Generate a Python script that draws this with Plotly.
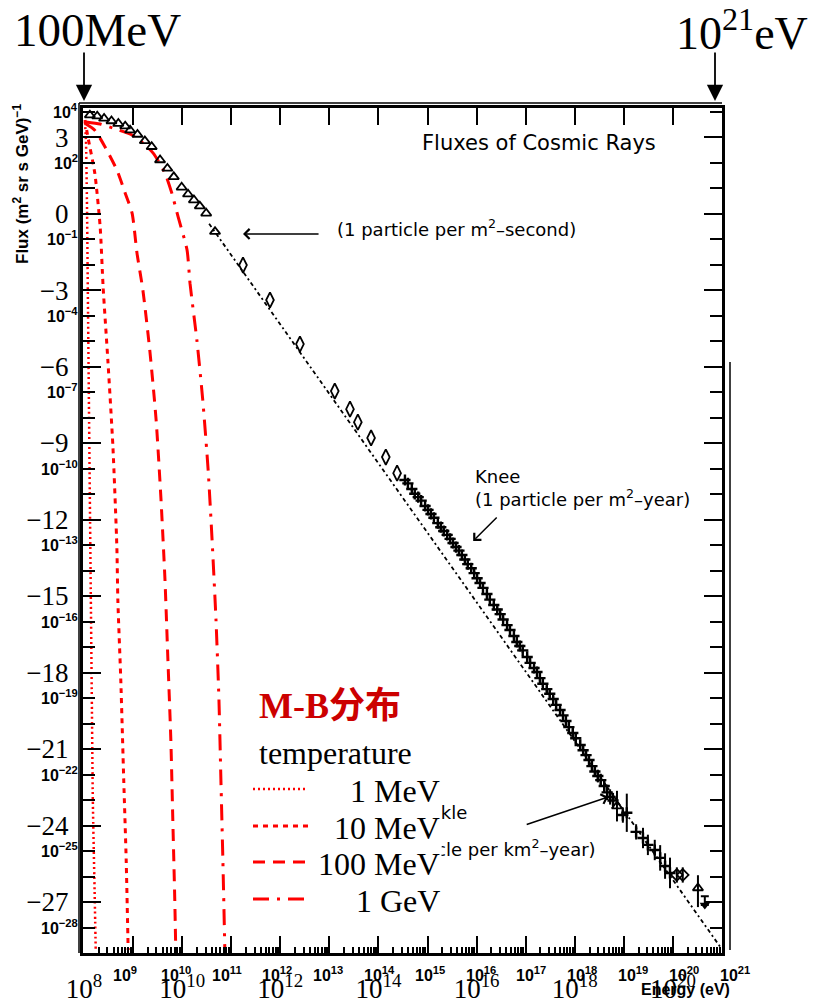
import plotly.graph_objects as go

# ---------------- data: log10(E / eV) and log10(flux) ----------------
# low-energy direct measurements (open triangles)
tri_logE = [8.12, 8.27, 8.41, 8.56, 8.70, 8.84, 8.94, 9.09, 9.24, 9.38,
            9.55, 9.70, 9.83, 9.99, 10.12, 10.24, 10.36, 10.49, 10.67]
tri_logF = [3.86, 3.82, 3.73, 3.63, 3.53, 3.43, 3.27, 3.10, 2.85, 2.62,
            2.10, 1.77, 1.44, 1.03, 0.76, 0.53, 0.29, 0.01, -0.71]

# balloon / satellite points (open diamonds)
dia_logE = [11.24, 11.79, 12.40, 13.11, 13.42, 13.58, 13.85, 14.15, 14.38]
dia_logF = [-2.02, -3.39, -5.12, -6.96, -7.67, -8.18, -8.80, -9.55, -10.18]

# air-shower points across the knee (two overlapping data sets)
knee_logE = [14.54, 14.68, 14.81, 14.95, 15.07, 15.21, 15.33, 15.46, 15.58, 15.70,
             15.82, 15.95, 16.07, 16.21, 16.35, 16.48, 16.62, 16.76, 16.88, 17.03,
             17.17, 17.29, 17.43, 17.56, 17.70, 17.82, 17.96, 18.11, 18.23, 18.35,
             18.47, 18.60, 18.72]
knee_logF = [-10.45, -10.80, -11.12, -11.47, -11.78, -12.14, -12.45, -12.76, -13.08, -13.39,
             -13.75, -14.10, -14.49, -14.92, -15.35, -15.71, -16.14, -16.57, -16.96, -17.39,
             -17.82, -18.22, -18.65, -19.04, -19.47, -19.90, -20.37, -20.84, -21.24, -21.67,
             -22.06, -22.45, -22.88]
knee_err = [0.08, 0.08, 0.08, 0.08, 0.08, 0.08, 0.08, 0.08, 0.08, 0.08,
            0.08, 0.08, 0.08, 0.08, 0.08, 0.08, 0.10, 0.10, 0.10, 0.10,
            0.10, 0.12, 0.12, 0.12, 0.15, 0.15, 0.15, 0.20, 0.20, 0.20,
            0.25, 0.25, 0.30]
knee2_logE = [14.60, 14.74, 14.87, 15.01, 15.13, 15.27, 15.40, 15.52, 15.64, 15.76,
              15.89, 16.01, 16.13, 16.27, 16.42, 16.54, 16.68, 16.82, 16.94, 17.09,
              17.23, 17.35, 17.49, 17.62, 17.76, 17.88, 18.02, 18.17, 18.29, 18.41,
              18.53, 18.66, 18.78]
knee2_logF = [-10.58, -10.99, -11.26, -11.62, -11.93, -12.30, -12.60, -12.92, -13.22, -13.57,
              -13.91, -14.30, -14.68, -15.14, -15.53, -15.92, -16.33, -16.80, -17.13, -17.62,
              -17.98, -18.44, -18.83, -19.27, -19.68, -20.14, -20.58, -21.05, -21.43, -21.88,
              -22.22, -22.70, -23.02]
knee2_err = [0.06, 0.06, 0.06, 0.06, 0.06, 0.06, 0.06, 0.06, 0.06, 0.06,
             0.06, 0.06, 0.08, 0.08, 0.08, 0.08, 0.08, 0.10, 0.10, 0.10,
             0.10, 0.12, 0.12, 0.15, 0.15, 0.15, 0.18, 0.20, 0.20, 0.22,
             0.25, 0.30, 0.30]

# ultra-high-energy points with error bars
uhe_logE = [18.98, 19.06, 19.25, 19.39, 19.49, 19.63, 19.74, 19.84, 19.94]
uhe_logF = [-23.59, -23.50, -24.25, -24.49, -24.76, -24.96, -25.27, -25.59, -25.86]
uhe_err = [0.30, 0.75, 0.30, 0.40, 0.40, 0.40, 0.50, 0.50, 0.60]

uhe_tri_logE = [18.86, 20.51]
uhe_tri_logF = [-23.24, -26.45]
uhe_tri_up = [0.60, 0.50]
uhe_tri_dn = [0.60, 0.75]

uhe_dia_logE = [20.08, 20.20]
uhe_dia_logF = [-25.94, -25.94]
uhe_dia_err = [0.30, 0.30]

lim_logE = [20.65]
lim_logF = [-27.12]
lim_up = [0.35]

# E^-2.7 reference line
ref_logE = [10.55, 20.96]
ref_logF = [-0.40, -28.75]

# Maxwell-Boltzmann curves for four temperatures
mb_labels = ["1 MeV", "10 MeV", "100 MeV", "1 GeV"]
mb1_logE = [8.02, 8.04, 8.06, 8.08, 8.10, 8.12, 8.14, 8.16, 8.18, 8.22, 8.24]
mb1_logF = [3.59, 2.88, 0.53, -3.39, -7.31, -11.24, -15.16, -19.08, -23.00, -26.92, -28.96]
mb2_logE = [8.02, 8.08, 8.22, 8.33, 8.39, 8.49, 8.59, 8.67, 8.69, 8.75, 8.81, 8.86, 8.90]
mb2_logF = [3.67, 3.00, 1.59, -0.53, -2.88, -5.86, -9.16, -13.08, -15.16, -18.29, -22.22, -25.35, -28.88]
mb3_logE = [8.04, 8.22, 8.43, 8.67, 8.84, 8.98, 9.08, 9.20, 9.34, 9.47, 9.57, 9.65,
            9.71, 9.77, 9.81, 9.85, 9.87]
mb3_logF = [3.51, 3.27, 2.61, 1.71, 0.80, 0.02, -1.55, -3.00, -5.35, -8.10, -11.24, -14.35,
            -17.51, -20.65, -23.78, -26.92, -28.88]
mb4_logE = [8.04, 8.33, 8.59, 8.98, 9.18, 9.41, 9.65, 9.79, 9.92, 10.10, 10.16, 10.30,
            10.42, 10.53, 10.61, 10.69, 10.75, 10.79, 10.83, 10.87]
mb4_logF = [3.59, 3.51, 3.35, 3.08, 2.80, 2.37, 1.59, 0.80, -0.14, -1.43, -2.73, -4.96,
            -7.31, -10.06, -12.80, -15.94, -19.08, -22.22, -25.35, -28.88]

# axis tick labels
y_big_exp = [3, 0, -3, -6, -9, -12, -15, -18, -21, -24, -27]
y_small_exp = [4, 2, -1, -4, -7, -10, -13, -16, -19, -22, -25, -28]
x_big_exp = [8, 10, 12, 14, 16, 18, 20]
x_small_exp = [9, 10, 11, 12, 13, 14, 15, 16, 17, 18, 19, 20, 21]

# ---------------- geometry ----------------
W, H = 813, 1004
L, R, T, B = 83, 722, 108, 953
X_RANGE = [7.98, 21.0]
Y_RANGE = [-29.0, 4.14]


def px(xp):
    return (xp - L) / (R - L)


def py(yp):
    return (B - yp) / (B - T)


def lin(a):
    return [10.0 ** v for v in a]


def eplus(logF, e):
    return [10.0 ** f * (10.0 ** d - 1.0) for f, d in zip(logF, e)]


def eminus(logF, e):
    return [10.0 ** f * (1.0 - 10.0 ** (-d)) for f, d in zip(logF, e)]


def minus(s):
    return s.replace("-", "\u2212")


RED = "#ff0000"
SERIF = "Liberation Serif, Times New Roman, serif"
SANS_B = "Liberation Sans, Arial, sans-serif"
ROUND = "DejaVu Sans, sans-serif"

fig = go.Figure()

fig.add_trace(go.Scatter(x=lin(ref_logE), y=lin(ref_logF), mode="lines",
                         line=dict(color="black", width=1.8, dash="4px,3px,2px,3px"),
                         hoverinfo="skip", showlegend=False))

mb_sets = [(mb1_logE, mb1_logF, "2px,3px", 2.5),
           (mb2_logE, mb2_logF, "5px,5px", 3),
           (mb3_logE, mb3_logF, "12px,8px", 3),
           (mb4_logE, mb4_logF, "16px,8px,3px,8px", 3)]
for (le, lf, dash, w), name in zip(mb_sets, mb_labels):
    fig.add_trace(go.Scatter(x=lin(le), y=lin(lf), mode="lines", name=name,
                             line=dict(color=RED, width=w, dash=dash, shape="spline", smoothing=0.6),
                             showlegend=False))

fig.add_trace(go.Scatter(x=lin(tri_logE), y=lin(tri_logF), mode="markers",
                         marker=dict(symbol="triangle-up-open", size=9, color="black",
                                     line=dict(width=1.8, color="black")),
                         showlegend=False))
fig.add_trace(go.Scatter(x=lin(dia_logE), y=lin(dia_logF), mode="markers",
                         marker=dict(symbol="diamond-tall-open", size=11, color="black",
                                     line=dict(width=1.8, color="black")),
                         showlegend=False))
for le, lf, er in [(knee_logE, knee_logF, knee_err), (knee2_logE, knee2_logF, knee2_err)]:
    fig.add_trace(go.Scatter(x=lin(le), y=lin(lf), mode="markers",
                             marker=dict(symbol="cross-thin-open", size=8, color="black",
                                         line=dict(width=2.4, color="black")),
                             error_y=dict(type="data", symmetric=False,
                                          array=eplus(lf, er), arrayminus=eminus(lf, er),
                                          color="black", thickness=2, width=0),
                             showlegend=False))
fig.add_trace(go.Scatter(x=lin(uhe_logE), y=lin(uhe_logF), mode="markers",
                         marker=dict(symbol="cross-thin-open", size=8, color="black",
                                     line=dict(width=2.4, color="black")),
                         error_y=dict(type="data", symmetric=False,
                                      array=eplus(uhe_logF, uhe_err),
                                      arrayminus=eminus(uhe_logF, uhe_err),
                                      color="black", thickness=2, width=0),
                         showlegend=False))
fig.add_trace(go.Scatter(x=lin(uhe_tri_logE), y=lin(uhe_tri_logF), mode="markers",
                         marker=dict(symbol="triangle-up-open", size=9, color="black",
                                     line=dict(width=1.8, color="black")),
                         error_y=dict(type="data", symmetric=False,
                                      array=eplus(uhe_tri_logF, uhe_tri_up),
                                      arrayminus=eminus(uhe_tri_logF, uhe_tri_dn),
                                      color="black", thickness=2, width=0),
                         showlegend=False))
fig.add_trace(go.Scatter(x=lin(uhe_dia_logE), y=lin(uhe_dia_logF), mode="markers",
                         marker=dict(symbol="diamond-open", size=9, color="black",
                                     line=dict(width=1.8, color="black")),
                         error_y=dict(type="data", symmetric=False,
                                      array=eplus(uhe_dia_logF, uhe_dia_err),
                                      arrayminus=eminus(uhe_dia_logF, uhe_dia_err),
                                      color="black", thickness=2, width=0),
                         showlegend=False))
fig.add_trace(go.Scatter(x=lin(lim_logE), y=lin(lim_logF), mode="markers",
                         marker=dict(symbol="triangle-down", size=9, color="black"),
                         error_y=dict(type="data", symmetric=False,
                                      array=eplus(lim_logF, lim_up), arrayminus=[0],
                                      color="black", thickness=2, width=4),
                         showlegend=False))
# carrier for the top tick axis
fig.add_trace(go.Scatter(x=[], y=[], xaxis="x2", yaxis="y", hoverinfo="skip", showlegend=False))

ann = []

# small original tick labels on the y axis
for e in y_small_exp:
    ann.append(dict(xref="paper", yref="y", x=px(80), y=e, xanchor="right", yanchor="middle",
                    yshift=1, showarrow=False,
                    text="<b>10<sup>" + minus(str(e)) + "</sup></b>",
                    font=dict(family=SANS_B, size=16, color="black")))

# small original tick labels on the x axis
for n in x_small_exp:
    ann.append(dict(xref="x", yref="paper", x=n, y=py(974), xanchor="center", yanchor="middle",
                    xshift=-8 + 1.72 * (n - 9), showarrow=False,
                    text="<b>10<sup>" + str(n) + "</sup></b>",
                    font=dict(family=SANS_B, size=16, color="black")))

TXT = dict(showarrow=False, xanchor="center", yanchor="middle")
ann += [
    dict(xref="paper", yref="paper", x=px(21), y=py(184), textangle=-90, **TXT,
         text="<b>Flux (m<sup>2</sup> sr s GeV)<sup>\u22121</sup></b>",
         font=dict(family=SANS_B, size=17, color="black")),
    dict(xref="paper", yref="paper", x=px(685), y=py(990), **TXT,
         text="<b>Energy (eV)</b>", font=dict(family=SANS_B, size=16, color="black")),
    dict(xref="x", yref="y", x=14.85, y=2.76, xanchor="left", yanchor="middle", showarrow=False,
         text="Fluxes of Cosmic Rays", font=dict(family=ROUND, size=21, color="black")),
    dict(xref="x", yref="y", x=13.11, y=-0.57, xanchor="left", yanchor="middle", showarrow=False,
         text="(1 particle per m<sup>2</sup>\u2013second)", font=dict(family=ROUND, size=18, color="black")),
    dict(xref="x", yref="y", x=11.24, y=-0.80, ax=12.81, ay=-0.80, axref="x", ayref="y",
         showarrow=True, arrowhead=4, arrowsize=1.3, arrowwidth=1.5, arrowcolor="black", text=""),
    dict(xref="x", yref="y", x=15.93, y=-10.33, xanchor="left", yanchor="middle", showarrow=False,
         text="Knee", font=dict(family=ROUND, size=18, color="black")),
    dict(xref="x", yref="y", x=15.93, y=-11.16, xanchor="left", yanchor="middle", showarrow=False,
         text="(1 particle per m<sup>2</sup>\u2013year)", font=dict(family=ROUND, size=18, color="black")),
    dict(xref="x", yref="y", x=15.93, y=-12.84, ax=16.44, ay=-11.86, axref="x", ayref="y",
         showarrow=True, arrowhead=4, arrowsize=1.3, arrowwidth=1.5, arrowcolor="black", text=""),
    dict(xref="x", yref="y", x=15.84, y=-23.47, xanchor="right", yanchor="middle", showarrow=False,
         text="Ankle", font=dict(family=ROUND, size=18, color="black")),
    dict(xref="x", yref="y", x=18.47, y=-24.88, xanchor="right", yanchor="middle", showarrow=False,
         text="(1 particle per km<sup>2</sup>\u2013year)", font=dict(family=ROUND, size=18, color="black")),
    dict(xref="x", yref="y", x=18.68, y=-22.88, ax=16.99, ay=-23.98, axref="x", ayref="y",
         showarrow=True, arrowhead=4, arrowsize=1.3, arrowwidth=1.5, arrowcolor="black", text=""),
    # energy-range markers above the frame
    dict(xref="paper", yref="paper", x=px(97), y=py(30), **TXT,
         text="100MeV", font=dict(family=SERIF, size=47, color="black")),
    dict(xref="paper", yref="paper", x=px(742), y=py(30), **TXT,
         text="10<sup>21</sup>eV", font=dict(family=SERIF, size=46, color="black")),
    dict(xref="paper", yref="paper", x=px(84), y=py(101), ax=0, ay=-50, showarrow=True,
         arrowhead=2, arrowsize=1.8, arrowwidth=1.8, arrowcolor="black", text=""),
    dict(xref="paper", yref="paper", x=px(715), y=py(101), ax=0, ay=-50, showarrow=True,
         arrowhead=2, arrowsize=1.8, arrowwidth=1.8, arrowcolor="black", text=""),
    # legend block
    dict(xref="paper", yref="paper", x=px(257), y=py(706), xanchor="left", yanchor="middle",
         showarrow=False, text="<b>M-B分布</b>",
         font=dict(family="Liberation Serif, Noto Sans CJK SC", size=36, color="#cc0000")),
    dict(xref="paper", yref="paper", x=px(257), y=py(753), xanchor="left", yanchor="middle",
         showarrow=False, text="temperature", font=dict(family=SERIF, size=32, color="black")),
]

legend_y = [789, 826, 862, 899]
for (le, lf, dash, w), name, ly in zip(mb_sets, mb_labels, legend_y):
    ann.append(dict(xref="paper", yref="paper", x=px(442), y=py(ly + 2), xanchor="right",
                    yanchor="middle", showarrow=False, text=name, bgcolor="white",
                    font=dict(family=SERIF, size=32, color="black")))

shapes = []
for (le, lf, dash, w), ly in zip(mb_sets, legend_y):
    shapes.append(dict(type="line", xref="paper", yref="paper", x0=px(253), x1=px(308),
                       y0=py(ly), y1=py(ly), line=dict(color=RED, width=w, dash=dash)))
# outer rules of the doubled frame and the stray scan rule on the right
shapes.append(dict(type="line", xref="paper", yref="paper", x0=px(79), x1=px(722),
                   y0=py(103), y1=py(103), line=dict(color="black", width=1.5)))
shapes.append(dict(type="line", xref="paper", yref="paper", x0=px(79), x1=px(79),
                   y0=py(103), y1=py(953), line=dict(color="black", width=1.5)))
shapes.append(dict(type="line", xref="paper", yref="paper", x0=px(730), x1=px(730),
                   y0=py(362), y1=py(950), line=dict(color="black", width=1.5)))

fig.update_layout(
    width=W, height=H,
    margin=dict(l=L, r=W - R, t=T, b=H - B, autoexpand=False),
    paper_bgcolor="white", plot_bgcolor="white",
    showlegend=False,
    xaxis=dict(type="log", range=X_RANGE, showgrid=False, zeroline=False, automargin=False,
               showline=True, linecolor="black", linewidth=3, mirror=True,
               ticks="inside", ticklen=17, tickwidth=2, tickcolor="black",
               tickmode="array", tickvals=[10.0 ** n for n in range(8, 22)],
               ticktext=["10<sup>%d</sup>" % n if n in x_big_exp else "" for n in range(8, 22)],
               tickfont=dict(family=SERIF, size=27, color="black"),
               ticklabelstandoff=10,
               minor=dict(ticks="inside", ticklen=6, tickwidth=1.5, tickcolor="black", dtick="D1")),
    xaxis2=dict(type="log", range=X_RANGE, overlaying="x", side="top", anchor="y",
                automargin=False,
                showgrid=False, zeroline=False, showline=False, showticklabels=False,
                ticks="inside", ticklen=17, tickwidth=2, tickcolor="black",
                tickmode="array", tickvals=[10.0 ** n for n in range(9, 21)]),
    yaxis=dict(type="log", range=Y_RANGE, showgrid=False, zeroline=False, automargin=False,
               showline=True, linecolor="black", linewidth=3, mirror="ticks",
               ticks="inside", ticklen=18, tickwidth=2, tickcolor="black",
               tickmode="array", tickvals=[10.0 ** e for e in y_big_exp],
               ticktext=[minus(str(e)) for e in y_big_exp],
               tickfont=dict(family=SERIF, size=27, color="black"),
               ticklabelstandoff=6,
               minor=dict(ticks="inside", ticklen=12, tickwidth=2, tickcolor="black",
                          tickvals=[10.0 ** e for e in range(-28, 5) if e % 3 != 0])),
    annotations=ann,
    shapes=shapes,
)

fig.write_html("out.html")
